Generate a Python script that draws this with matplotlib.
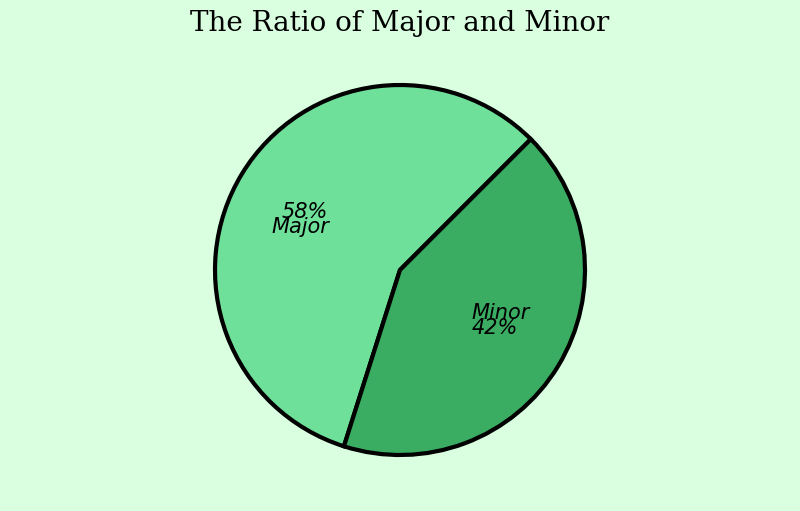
import matplotlib
matplotlib.use("Agg")
import matplotlib.pyplot as plt

labels = ["Major", "Minor"]
values = [57.6, 42.4]
colors = ["#6ee09a", "#3aad62"]
bg = "#d9ffe0"

fig = plt.figure(figsize=(8, 5.11), dpi=100, facecolor=bg)
ax = fig.add_axes([215/800, 56/511, 370/800, 370/511])
ax.set_facecolor(bg)
ax.pie(values, labels=labels, colors=colors, autopct="%1.0f%%",
       startangle=45, labeldistance=0.45, pctdistance=0.6,
       wedgeprops=dict(edgecolor="black", linewidth=3),
       textprops=dict(fontsize=15, fontstyle="italic", color="black"),
       frame=False)
ax.set_xlim(-1, 1)
ax.set_ylim(-1, 1)
ax.set_aspect("equal")
for p in ax.patches:
    p.set_clip_on(False)
fig.suptitle("The Ratio of Major and Minor", fontsize=20, family="DejaVu Serif",
             y=0.98, va="top")
fig.savefig("out.png", dpi=100, facecolor=bg)
